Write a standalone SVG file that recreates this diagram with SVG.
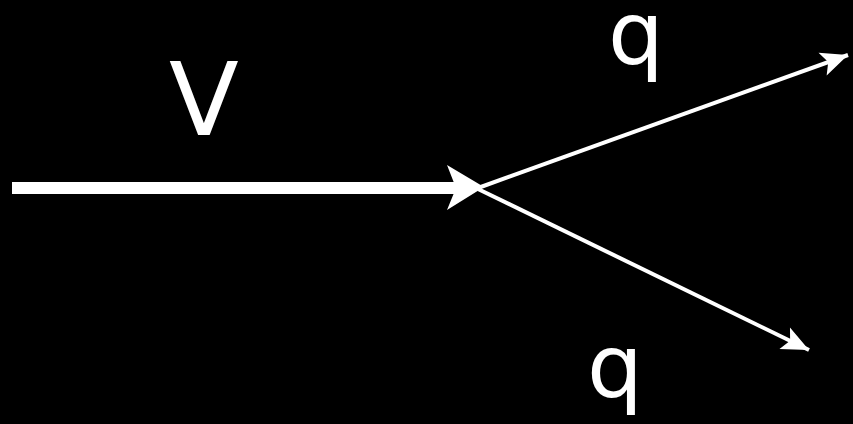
<svg xmlns="http://www.w3.org/2000/svg" width="853" height="424" viewBox="0 0 853 424">
<style>
.lbl{font-family:"DejaVu Sans","Liberation Sans",sans-serif;fill:#fff;text-anchor:middle}
.thin{stroke:#fff;stroke-width:4;fill:none}
</style>
<defs>
<marker id="ah" markerUnits="userSpaceOnUse" markerWidth="34" markerHeight="34" viewBox="0 0 34 34" refX="30" refY="17" orient="auto">
<path d="M30,17 L3,5 L9,17 L3,29 Z" fill="#fff"/>
</marker>
</defs>
<rect width="853" height="424" fill="#000"/>
<g id="connectors">
<line x1="12" y1="188" x2="458" y2="188" stroke="#fff" stroke-width="12"/>
<polygon points="484,187 447,165 456,188 447,210" fill="#fff"/>
<line class="thin" x1="478" y1="188" x2="848" y2="55" marker-end="url(#ah)"/>
<line class="thin" x1="478" y1="189" x2="809" y2="350" marker-end="url(#ah)"/>
</g>
<g id="label-v"><text class="lbl" x="204" y="135" font-size="102">V</text></g>
<g id="label-q1"><text class="lbl" x="636" y="64" font-size="88">q</text></g>
<g id="label-q2"><text class="lbl" x="615" y="397" font-size="88">q</text></g>
</svg>
